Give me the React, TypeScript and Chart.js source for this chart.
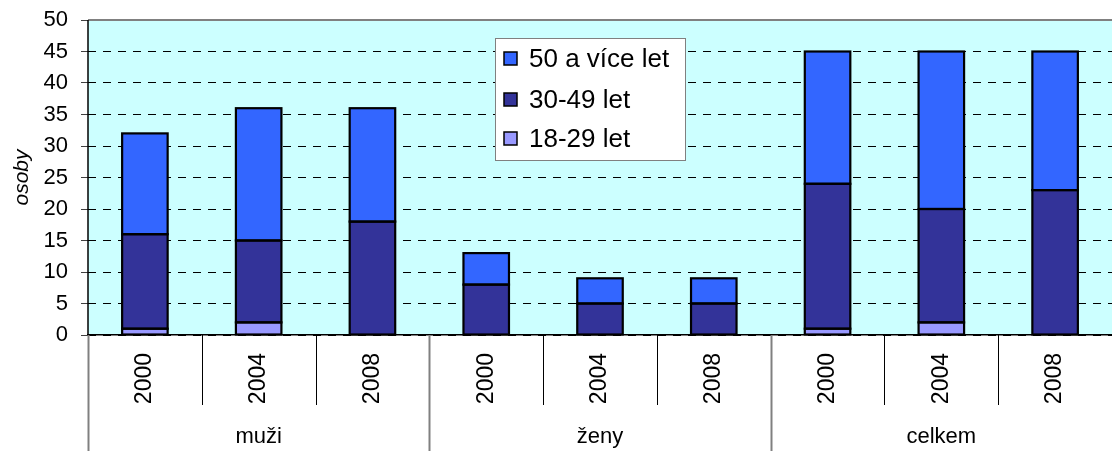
import React, { useEffect, useRef } from "react";
import { Chart, registerables } from "chart.js";

Chart.register(...registerables);

const years = ["2000", "2004", "2008", "2000", "2004", "2008", "2000", "2004", "2008"];
const groups = ["muži", "ženy", "celkem"];
const groupSize = 3;
const age18to29 = [1, 2, 0, 0, 0, 0, 1, 2, 0];
const age30to49 = [15, 13, 18, 8, 5, 5, 23, 18, 23];
const age50plus = [16, 21, 18, 5, 4, 4, 21, 25, 22];
const seriesNames = ["18-29 let", "30-49 let", "50 a více let"];
const seriesColors = ["#9999FF", "#333399", "#3366FF"];
const yAxisTitle = "osoby";
const yMin = 0;
const yMax = 50;
const yStep = 5;

const FONT = "'Liberation Sans', Arial, sans-serif";

const decorPlugin = {
  id: "decor",
  beforeDraw(chart: any) {
    const { ctx, chartArea } = chart;
    ctx.save();
    ctx.fillStyle = "#CCFFFF";
    ctx.fillRect(chartArea.left, chartArea.top, chartArea.right - chartArea.left, chartArea.bottom - chartArea.top);
    ctx.restore();
  },
  afterDatasetsDraw(chart: any) {
    const { ctx } = chart;
    ctx.save();
    ctx.strokeStyle = "#000";
    ctx.lineWidth = 2.2;
    chart.data.datasets.forEach((_: any, di: number) => {
      const meta = chart.getDatasetMeta(di);
      meta.data.forEach((el: any) => {
        const { x, y, base, width } = el.getProps(["x", "y", "base", "width"], true);
        const h = base - y;
        if (Math.abs(h) < 0.5) return;
        ctx.strokeRect(x - width / 2, y, width, h);
      });
    });
    ctx.restore();
  },
  afterDraw(chart: any) {
    const { ctx, chartArea } = chart;
    const { left, right, top, bottom } = chartArea;
    const H = chart.height;
    const n = years.length;
    const w = (right - left) / n;
    ctx.save();
    // top border
    ctx.strokeStyle = "#808080";
    ctx.lineWidth = 2;
    ctx.beginPath();
    ctx.moveTo(left, top);
    ctx.lineTo(right, top);
    ctx.stroke();
    // left axis
    ctx.strokeStyle = "#000";
    ctx.lineWidth = 1.5;
    ctx.beginPath();
    ctx.moveTo(left, top);
    ctx.lineTo(left, bottom);
    ctx.stroke();
    // dividers below axis
    for (let i = 0; i < n; i++) {
      const x = Math.round(left + i * w) + 0.5;
      ctx.beginPath();
      if (i % groupSize === 0) {
        ctx.strokeStyle = "#808080";
        ctx.lineWidth = 2;
        ctx.moveTo(x, bottom);
        ctx.lineTo(x, H);
      } else {
        ctx.strokeStyle = "#000";
        ctx.lineWidth = 1;
        ctx.moveTo(x, bottom);
        ctx.lineTo(x, bottom + 70);
      }
      ctx.stroke();
    }
    // group labels
    ctx.fillStyle = "#000";
    ctx.font = `22px ${FONT}`;
    ctx.textAlign = "center";
    ctx.textBaseline = "middle";
    groups.forEach((g, gi) => {
      const cx = left + (gi * groupSize + groupSize / 2) * w;
      ctx.fillText(g, cx, bottom + 102);
    });
    // legend
    const lx = 495, ly = 38, lw = 190, lh = 122;
    ctx.fillStyle = "#fff";
    ctx.fillRect(lx, ly, lw, lh);
    ctx.strokeStyle = "#808080";
    ctx.lineWidth = 1;
    ctx.strokeRect(lx + 0.5, ly + 0.5, lw, lh);
    const order = [2, 1, 0];
    const rows = [59, 100, 139];
    order.forEach((di, k) => {
      const cy = rows[k];
      ctx.fillStyle = seriesColors[di];
      ctx.fillRect(504, cy - 7, 13, 13);
      ctx.strokeStyle = "#000";
      ctx.lineWidth = 1.5;
      ctx.strokeRect(504, cy - 7, 13, 13);
      ctx.fillStyle = "#000";
      ctx.font = `26px ${FONT}`;
      ctx.textAlign = "left";
      ctx.textBaseline = "middle";
      ctx.fillText(seriesNames[di], 529, cy + 1);
    });
    ctx.restore();
  },
};

export default function App() {
  const ref = useRef<HTMLCanvasElement | null>(null);
  useEffect(() => {
    if (!ref.current) return;
    const values = [age18to29, age30to49, age50plus];
    const chart = new Chart(ref.current, {
      type: "bar",
      data: {
        labels: years,
        datasets: values.map((v, i) => ({
          label: seriesNames[i],
          data: v,
          backgroundColor: seriesColors[i],
          borderWidth: 0,
          barPercentage: 0.4,
          categoryPercentage: 1,
        })),
      },
      options: {
        responsive: false,
        animation: false,
        layout: { padding: { top: 20, right: 0, left: 0, bottom: 0 } },
        plugins: {
          legend: { display: false },
          tooltip: { enabled: false },
          title: { display: false },
        },
        scales: {
          x: {
            stacked: true,
            offset: true,
            grid: { display: false, drawTicks: false },
            border: { display: true, color: "#000", width: 1.5 },
            ticks: {
              autoSkip: false,
              minRotation: 90,
              maxRotation: 90,
              padding: 18,
              color: "#000",
              font: { size: 23, family: FONT },
            },
            afterFit: (s: any) => {
              s.height = 116;
              s.paddingLeft = 0;
              s.paddingRight = 0;
            },
          },
          y: {
            stacked: true,
            min: yMin,
            max: yMax,
            ticks: { stepSize: yStep, padding: 13, color: "#000", font: { size: 22, family: FONT } },
            grid: { color: "#000", tickColor: "#404040", tickLength: 7, tickBorderDash: [], lineWidth: 1 },
            border: { display: false, dash: [8, 7] },
            title: {
              display: true,
              text: yAxisTitle,
              color: "#000",
              font: { size: 21, style: "italic", family: FONT },
              padding: { top: 10, bottom: 0 },
            },
            afterFit: (s: any) => {
              s.width = 88;
              s.paddingTop = 0;
              s.paddingBottom = 0;
            },
          },
        },
      },
      plugins: [decorPlugin],
    } as any);
    return () => chart.destroy();
  }, []);
  return (
    <div style={{ position: "absolute", left: 0, top: 0, width: 1112, height: 451, background: "#fff" }}>
      <canvas ref={ref} width={1112} height={451} />
    </div>
  );
}
